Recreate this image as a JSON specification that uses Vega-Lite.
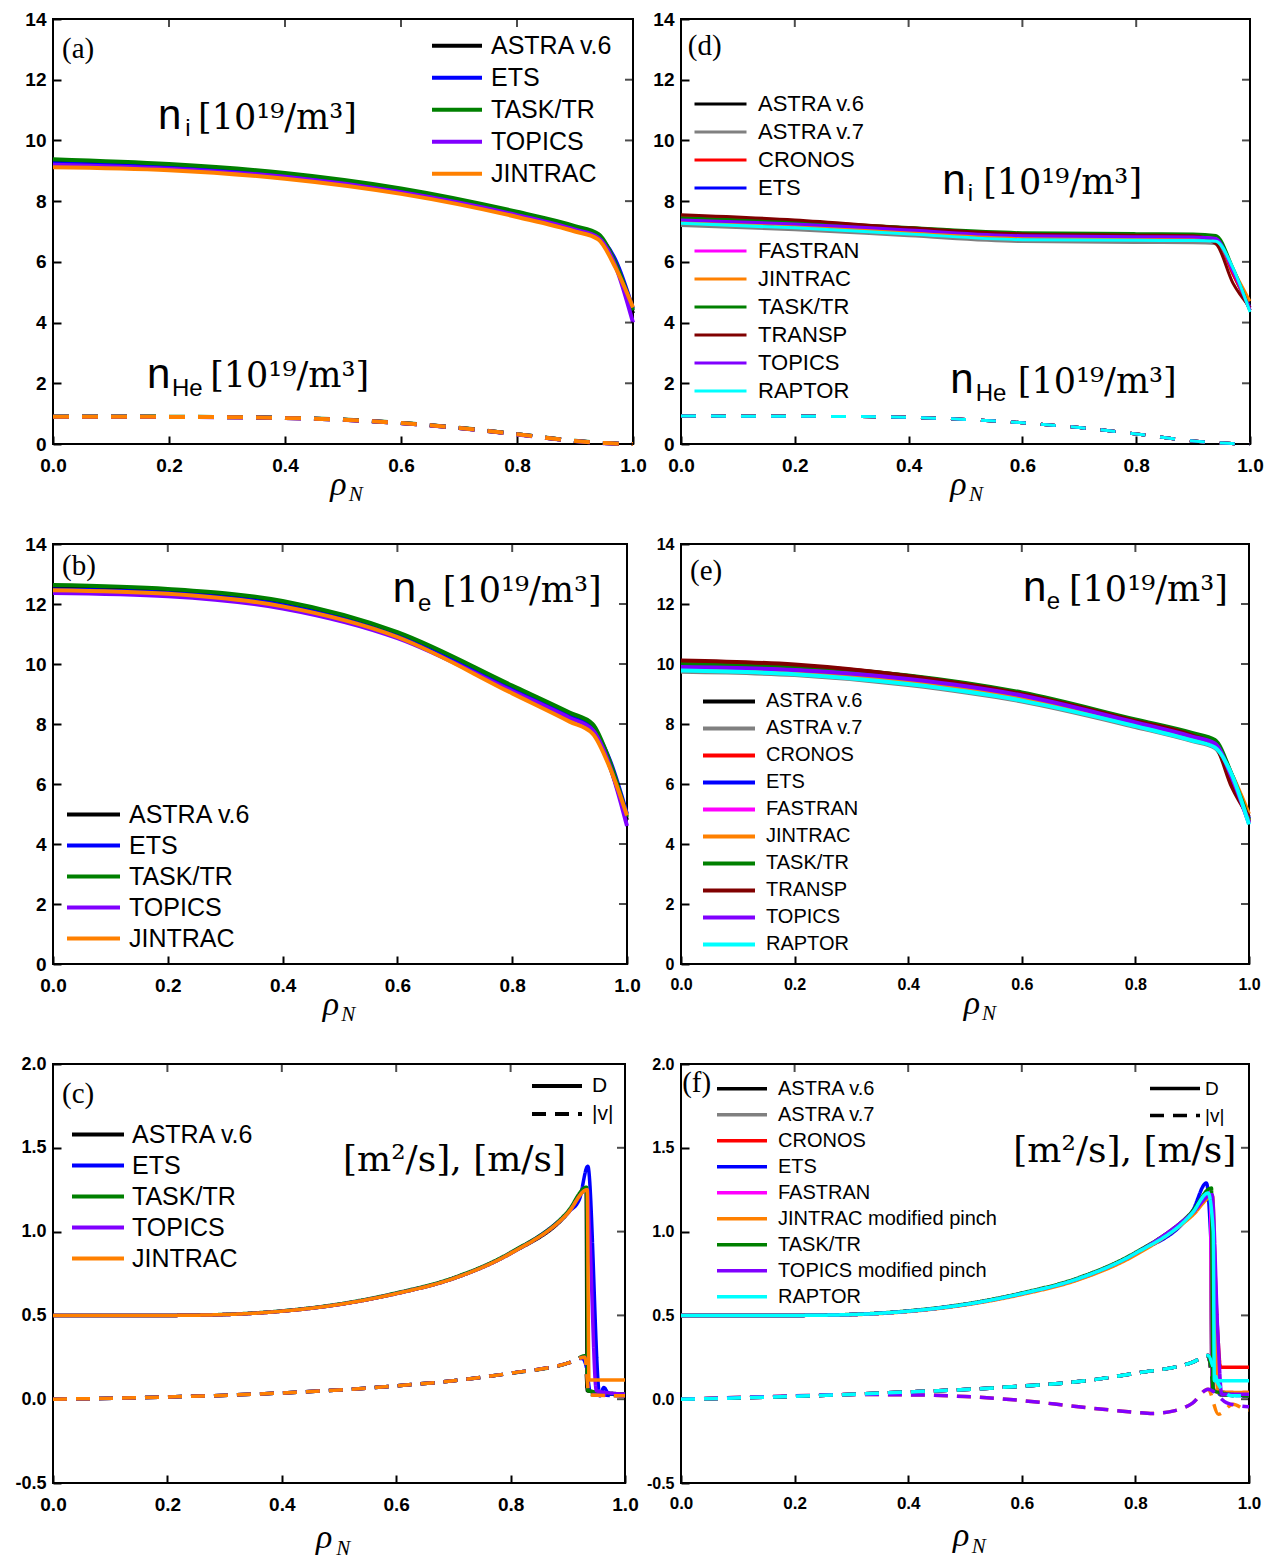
{
  "$schema": "https://vega.github.io/schema/vega-lite/v6.json",
  "background": "white",
  "padding": {"left": 13, "top": 9, "right": 10, "bottom": 10},
  "columns": 2,
  "bounds": "flush",
  "spacing": {"row": 100, "column": 48},
  "resolve": {"scale": {"color": "independent", "strokeDash": "independent"}, "legend": {"color": "independent", "strokeDash": "independent"}},
  "datasets": {
    "xticks": [{"v":0},{"v":0.2},{"v":0.4},{"v":0.6},{"v":0.8},{"v":1}],
    "nticks": [{"v":0},{"v":2},{"v":4},{"v":6},{"v":8},{"v":10},{"v":12},{"v":14}],
    "dticks": [{"v":-0.5},{"v":0},{"v":0.5},{"v":1},{"v":1.5},{"v":2}],
    "a_ni": [
      {"c":"ASTRA v.6","x":0,"y":9.3},{"c":"ASTRA v.6","x":0.2,"y":9.15},{"c":"ASTRA v.6","x":0.4,"y":8.87},{"c":"ASTRA v.6","x":0.6,"y":8.36},{"c":"ASTRA v.6","x":0.8,"y":7.59},{"c":"ASTRA v.6","x":0.9,"y":7.12},{"c":"ASTRA v.6","x":0.94,"y":6.86},{"c":"ASTRA v.6","x":0.97,"y":5.9},{"c":"ASTRA v.6","x":1,"y":4.3},
      {"c":"ETS","x":0,"y":9.25},{"c":"ETS","x":0.2,"y":9.11},{"c":"ETS","x":0.4,"y":8.83},{"c":"ETS","x":0.6,"y":8.32},{"c":"ETS","x":0.8,"y":7.56},{"c":"ETS","x":0.9,"y":7.09},{"c":"ETS","x":0.94,"y":6.83},{"c":"ETS","x":0.97,"y":6.05},{"c":"ETS","x":1,"y":4.45},
      {"c":"TASK/TR","x":0,"y":9.38},{"c":"TASK/TR","x":0.2,"y":9.22},{"c":"TASK/TR","x":0.4,"y":8.93},{"c":"TASK/TR","x":0.6,"y":8.42},{"c":"TASK/TR","x":0.8,"y":7.65},{"c":"TASK/TR","x":0.9,"y":7.18},{"c":"TASK/TR","x":0.94,"y":6.92},{"c":"TASK/TR","x":0.97,"y":5.95},{"c":"TASK/TR","x":1,"y":4.4},
      {"c":"TOPICS","x":0,"y":9.2},{"c":"TOPICS","x":0.2,"y":9.07},{"c":"TOPICS","x":0.4,"y":8.8},{"c":"TOPICS","x":0.6,"y":8.29},{"c":"TOPICS","x":0.8,"y":7.54},{"c":"TOPICS","x":0.9,"y":7.06},{"c":"TOPICS","x":0.94,"y":6.8},{"c":"TOPICS","x":0.97,"y":5.85},{"c":"TOPICS","x":1,"y":4.0},
      {"c":"JINTRAC","x":0,"y":9.12},{"c":"JINTRAC","x":0.2,"y":9.02},{"c":"JINTRAC","x":0.4,"y":8.74},{"c":"JINTRAC","x":0.6,"y":8.24},{"c":"JINTRAC","x":0.8,"y":7.48},{"c":"JINTRAC","x":0.9,"y":7.0},{"c":"JINTRAC","x":0.94,"y":6.74},{"c":"JINTRAC","x":0.97,"y":5.8},{"c":"JINTRAC","x":1,"y":4.5}
    ],
    "a_he": [
      {"c":"ASTRA v.6","x":0,"y":0.9},{"c":"ASTRA v.6","x":0.3,"y":0.885},{"c":"ASTRA v.6","x":0.4,"y":0.86},{"c":"ASTRA v.6","x":0.5,"y":0.8},{"c":"ASTRA v.6","x":0.6,"y":0.69},{"c":"ASTRA v.6","x":0.7,"y":0.53},{"c":"ASTRA v.6","x":0.8,"y":0.32},{"c":"ASTRA v.6","x":0.9,"y":0.1},{"c":"ASTRA v.6","x":0.95,"y":0.03},{"c":"ASTRA v.6","x":1,"y":0},
      {"c":"ETS","x":0,"y":0.9},{"c":"ETS","x":0.3,"y":0.885},{"c":"ETS","x":0.4,"y":0.86},{"c":"ETS","x":0.5,"y":0.8},{"c":"ETS","x":0.6,"y":0.69},{"c":"ETS","x":0.7,"y":0.53},{"c":"ETS","x":0.8,"y":0.32},{"c":"ETS","x":0.9,"y":0.1},{"c":"ETS","x":0.95,"y":0.03},{"c":"ETS","x":1,"y":0},
      {"c":"TASK/TR","x":0,"y":0.91},{"c":"TASK/TR","x":0.3,"y":0.89},{"c":"TASK/TR","x":0.4,"y":0.865},{"c":"TASK/TR","x":0.5,"y":0.805},{"c":"TASK/TR","x":0.6,"y":0.695},{"c":"TASK/TR","x":0.7,"y":0.535},{"c":"TASK/TR","x":0.8,"y":0.325},{"c":"TASK/TR","x":0.9,"y":0.105},{"c":"TASK/TR","x":0.95,"y":0.03},{"c":"TASK/TR","x":1,"y":0},
      {"c":"TOPICS","x":0,"y":0.9},{"c":"TOPICS","x":0.3,"y":0.88},{"c":"TOPICS","x":0.4,"y":0.855},{"c":"TOPICS","x":0.5,"y":0.795},{"c":"TOPICS","x":0.6,"y":0.685},{"c":"TOPICS","x":0.7,"y":0.525},{"c":"TOPICS","x":0.8,"y":0.315},{"c":"TOPICS","x":0.9,"y":0.095},{"c":"TOPICS","x":0.95,"y":0.025},{"c":"TOPICS","x":1,"y":0},
      {"c":"JINTRAC","x":0,"y":0.9},{"c":"JINTRAC","x":0.3,"y":0.885},{"c":"JINTRAC","x":0.4,"y":0.86},{"c":"JINTRAC","x":0.5,"y":0.8},{"c":"JINTRAC","x":0.6,"y":0.69},{"c":"JINTRAC","x":0.7,"y":0.53},{"c":"JINTRAC","x":0.8,"y":0.32},{"c":"JINTRAC","x":0.9,"y":0.1},{"c":"JINTRAC","x":0.95,"y":0.03},{"c":"JINTRAC","x":1,"y":0}
    ],
    "b_ne": [
      {"c":"ASTRA v.6","x":0,"y":12.56},{"c":"ASTRA v.6","x":0.2,"y":12.44},{"c":"ASTRA v.6","x":0.4,"y":12.04},{"c":"ASTRA v.6","x":0.6,"y":11.0},{"c":"ASTRA v.6","x":0.8,"y":9.22},{"c":"ASTRA v.6","x":0.9,"y":8.3},{"c":"ASTRA v.6","x":0.94,"y":7.9},{"c":"ASTRA v.6","x":0.97,"y":6.6},{"c":"ASTRA v.6","x":1,"y":4.8},
      {"c":"ETS","x":0,"y":12.48},{"c":"ETS","x":0.2,"y":12.37},{"c":"ETS","x":0.4,"y":11.97},{"c":"ETS","x":0.6,"y":10.93},{"c":"ETS","x":0.8,"y":9.15},{"c":"ETS","x":0.9,"y":8.25},{"c":"ETS","x":0.94,"y":7.85},{"c":"ETS","x":0.97,"y":6.8},{"c":"ETS","x":1,"y":5.0},
      {"c":"TASK/TR","x":0,"y":12.63},{"c":"TASK/TR","x":0.2,"y":12.5},{"c":"TASK/TR","x":0.4,"y":12.1},{"c":"TASK/TR","x":0.6,"y":11.06},{"c":"TASK/TR","x":0.8,"y":9.28},{"c":"TASK/TR","x":0.9,"y":8.38},{"c":"TASK/TR","x":0.94,"y":8.0},{"c":"TASK/TR","x":0.97,"y":6.75},{"c":"TASK/TR","x":1,"y":4.9},
      {"c":"TOPICS","x":0,"y":12.37},{"c":"TOPICS","x":0.2,"y":12.26},{"c":"TOPICS","x":0.4,"y":11.85},{"c":"TOPICS","x":0.6,"y":10.86},{"c":"TOPICS","x":0.8,"y":9.1},{"c":"TOPICS","x":0.9,"y":8.2},{"c":"TOPICS","x":0.94,"y":7.8},{"c":"TOPICS","x":0.97,"y":6.6},{"c":"TOPICS","x":1,"y":4.6},
      {"c":"JINTRAC","x":0,"y":12.46},{"c":"JINTRAC","x":0.2,"y":12.34},{"c":"JINTRAC","x":0.4,"y":11.92},{"c":"JINTRAC","x":0.6,"y":10.9},{"c":"JINTRAC","x":0.8,"y":9.02},{"c":"JINTRAC","x":0.9,"y":8.08},{"c":"JINTRAC","x":0.94,"y":7.68},{"c":"JINTRAC","x":0.97,"y":6.55},{"c":"JINTRAC","x":1,"y":4.95}
    ],
    "c_dv": [
      {"c":"ASTRA v.6","q":"D","x":0,"y":0.5},{"c":"ASTRA v.6","q":"D","x":0.2,"y":0.5},{"c":"ASTRA v.6","q":"D","x":0.3,"y":0.505},{"c":"ASTRA v.6","q":"D","x":0.4,"y":0.525},{"c":"ASTRA v.6","q":"D","x":0.5,"y":0.565},{"c":"ASTRA v.6","q":"D","x":0.6,"y":0.63},{"c":"ASTRA v.6","q":"D","x":0.7,"y":0.72},{"c":"ASTRA v.6","q":"D","x":0.8,"y":0.87},{"c":"ASTRA v.6","q":"D","x":0.9,"y":1.11},{"c":"ASTRA v.6","q":"D","x":0.932,"y":1.255},{"c":"ASTRA v.6","q":"D","x":0.934,"y":0.05},{"c":"ASTRA v.6","q":"D","x":1,"y":0.03},
      {"c":"ASTRA v.6","q":"|v|","x":0,"y":0},{"c":"ASTRA v.6","q":"|v|","x":0.2,"y":0.013},{"c":"ASTRA v.6","q":"|v|","x":0.4,"y":0.037},{"c":"ASTRA v.6","q":"|v|","x":0.5,"y":0.055},{"c":"ASTRA v.6","q":"|v|","x":0.6,"y":0.08},{"c":"ASTRA v.6","q":"|v|","x":0.7,"y":0.11},{"c":"ASTRA v.6","q":"|v|","x":0.8,"y":0.155},{"c":"ASTRA v.6","q":"|v|","x":0.9,"y":0.215},{"c":"ASTRA v.6","q":"|v|","x":0.93,"y":0.25},{"c":"ASTRA v.6","q":"|v|","x":0.935,"y":0.03},{"c":"ASTRA v.6","q":"|v|","x":1,"y":0.02},
      {"c":"ETS","q":"D","x":0,"y":0.5},{"c":"ETS","q":"D","x":0.2,"y":0.5},{"c":"ETS","q":"D","x":0.3,"y":0.505},{"c":"ETS","q":"D","x":0.4,"y":0.526},{"c":"ETS","q":"D","x":0.5,"y":0.566},{"c":"ETS","q":"D","x":0.6,"y":0.632},{"c":"ETS","q":"D","x":0.7,"y":0.722},{"c":"ETS","q":"D","x":0.8,"y":0.872},{"c":"ETS","q":"D","x":0.9,"y":1.115},{"c":"ETS","q":"D","x":0.92,"y":1.19},{"c":"ETS","q":"D","x":0.935,"y":1.39},{"c":"ETS","q":"D","x":0.956,"y":0.02},{"c":"ETS","q":"D","x":0.963,"y":0.07},{"c":"ETS","q":"D","x":0.972,"y":0.03},{"c":"ETS","q":"D","x":1,"y":0.03},
      {"c":"ETS","q":"|v|","x":0,"y":0},{"c":"ETS","q":"|v|","x":0.2,"y":0.013},{"c":"ETS","q":"|v|","x":0.4,"y":0.037},{"c":"ETS","q":"|v|","x":0.5,"y":0.055},{"c":"ETS","q":"|v|","x":0.6,"y":0.08},{"c":"ETS","q":"|v|","x":0.7,"y":0.11},{"c":"ETS","q":"|v|","x":0.8,"y":0.155},{"c":"ETS","q":"|v|","x":0.9,"y":0.215},{"c":"ETS","q":"|v|","x":0.925,"y":0.245},{"c":"ETS","q":"|v|","x":0.932,"y":0.2},{"c":"ETS","q":"|v|","x":0.94,"y":0.03},{"c":"ETS","q":"|v|","x":1,"y":0.02},
      {"c":"TASK/TR","q":"D","x":0,"y":0.5},{"c":"TASK/TR","q":"D","x":0.2,"y":0.5},{"c":"TASK/TR","q":"D","x":0.3,"y":0.506},{"c":"TASK/TR","q":"D","x":0.4,"y":0.527},{"c":"TASK/TR","q":"D","x":0.5,"y":0.568},{"c":"TASK/TR","q":"D","x":0.6,"y":0.634},{"c":"TASK/TR","q":"D","x":0.7,"y":0.725},{"c":"TASK/TR","q":"D","x":0.8,"y":0.876},{"c":"TASK/TR","q":"D","x":0.9,"y":1.12},{"c":"TASK/TR","q":"D","x":0.933,"y":1.265},{"c":"TASK/TR","q":"D","x":0.935,"y":0.05},{"c":"TASK/TR","q":"D","x":1,"y":0.03},
      {"c":"TASK/TR","q":"|v|","x":0,"y":0},{"c":"TASK/TR","q":"|v|","x":0.2,"y":0.013},{"c":"TASK/TR","q":"|v|","x":0.4,"y":0.037},{"c":"TASK/TR","q":"|v|","x":0.5,"y":0.055},{"c":"TASK/TR","q":"|v|","x":0.6,"y":0.08},{"c":"TASK/TR","q":"|v|","x":0.7,"y":0.11},{"c":"TASK/TR","q":"|v|","x":0.8,"y":0.155},{"c":"TASK/TR","q":"|v|","x":0.9,"y":0.215},{"c":"TASK/TR","q":"|v|","x":0.933,"y":0.26},{"c":"TASK/TR","q":"|v|","x":0.935,"y":0.05},{"c":"TASK/TR","q":"|v|","x":1,"y":0.03},
      {"c":"TOPICS","q":"D","x":0,"y":0.5},{"c":"TOPICS","q":"D","x":0.2,"y":0.5},{"c":"TOPICS","q":"D","x":0.3,"y":0.505},{"c":"TOPICS","q":"D","x":0.4,"y":0.525},{"c":"TOPICS","q":"D","x":0.5,"y":0.565},{"c":"TOPICS","q":"D","x":0.6,"y":0.63},{"c":"TOPICS","q":"D","x":0.7,"y":0.72},{"c":"TOPICS","q":"D","x":0.8,"y":0.87},{"c":"TOPICS","q":"D","x":0.9,"y":1.11},{"c":"TOPICS","q":"D","x":0.934,"y":1.25},{"c":"TOPICS","q":"D","x":0.938,"y":1.0},{"c":"TOPICS","q":"D","x":0.95,"y":0.05},{"c":"TOPICS","q":"D","x":1,"y":0.03},
      {"c":"TOPICS","q":"|v|","x":0,"y":0},{"c":"TOPICS","q":"|v|","x":0.2,"y":0.013},{"c":"TOPICS","q":"|v|","x":0.4,"y":0.037},{"c":"TOPICS","q":"|v|","x":0.5,"y":0.055},{"c":"TOPICS","q":"|v|","x":0.6,"y":0.08},{"c":"TOPICS","q":"|v|","x":0.7,"y":0.11},{"c":"TOPICS","q":"|v|","x":0.8,"y":0.155},{"c":"TOPICS","q":"|v|","x":0.9,"y":0.215},{"c":"TOPICS","q":"|v|","x":0.93,"y":0.25},{"c":"TOPICS","q":"|v|","x":0.938,"y":0.03},{"c":"TOPICS","q":"|v|","x":1,"y":0.02},
      {"c":"JINTRAC","q":"D","x":0,"y":0.5},{"c":"JINTRAC","q":"D","x":0.2,"y":0.5},{"c":"JINTRAC","q":"D","x":0.3,"y":0.505},{"c":"JINTRAC","q":"D","x":0.4,"y":0.525},{"c":"JINTRAC","q":"D","x":0.5,"y":0.565},{"c":"JINTRAC","q":"D","x":0.6,"y":0.63},{"c":"JINTRAC","q":"D","x":0.7,"y":0.72},{"c":"JINTRAC","q":"D","x":0.8,"y":0.87},{"c":"JINTRAC","q":"D","x":0.9,"y":1.11},{"c":"JINTRAC","q":"D","x":0.934,"y":1.25},{"c":"JINTRAC","q":"D","x":0.937,"y":0.115},{"c":"JINTRAC","q":"D","x":1,"y":0.115},
      {"c":"JINTRAC","q":"|v|","x":0,"y":0},{"c":"JINTRAC","q":"|v|","x":0.2,"y":0.013},{"c":"JINTRAC","q":"|v|","x":0.4,"y":0.037},{"c":"JINTRAC","q":"|v|","x":0.5,"y":0.055},{"c":"JINTRAC","q":"|v|","x":0.6,"y":0.08},{"c":"JINTRAC","q":"|v|","x":0.7,"y":0.11},{"c":"JINTRAC","q":"|v|","x":0.8,"y":0.155},{"c":"JINTRAC","q":"|v|","x":0.9,"y":0.215},{"c":"JINTRAC","q":"|v|","x":0.93,"y":0.25},{"c":"JINTRAC","q":"|v|","x":0.937,"y":0.025},{"c":"JINTRAC","q":"|v|","x":1,"y":0.02}
    ],
    "d_ni": [
      {"c":"ASTRA v.6","x":0,"y":7.3},{"c":"ASTRA v.6","x":0.2,"y":7.18},{"c":"ASTRA v.6","x":0.4,"y":6.98},{"c":"ASTRA v.6","x":0.6,"y":6.8},{"c":"ASTRA v.6","x":0.8,"y":6.79},{"c":"ASTRA v.6","x":0.9,"y":6.78},{"c":"ASTRA v.6","x":0.94,"y":6.75},{"c":"ASTRA v.6","x":0.97,"y":5.65},{"c":"ASTRA v.6","x":1,"y":4.4},
      {"c":"ASTRA v.7","x":0,"y":7.2},{"c":"ASTRA v.7","x":0.2,"y":7.06},{"c":"ASTRA v.7","x":0.4,"y":6.86},{"c":"ASTRA v.7","x":0.6,"y":6.67},{"c":"ASTRA v.7","x":0.8,"y":6.64},{"c":"ASTRA v.7","x":0.9,"y":6.63},{"c":"ASTRA v.7","x":0.94,"y":6.6},{"c":"ASTRA v.7","x":0.97,"y":5.6},{"c":"ASTRA v.7","x":1,"y":4.4},
      {"c":"CRONOS","x":0,"y":7.48},{"c":"CRONOS","x":0.2,"y":7.34},{"c":"CRONOS","x":0.4,"y":7.12},{"c":"CRONOS","x":0.6,"y":6.93},{"c":"CRONOS","x":0.8,"y":6.89},{"c":"CRONOS","x":0.9,"y":6.88},{"c":"CRONOS","x":0.94,"y":6.8},{"c":"CRONOS","x":0.97,"y":5.6},{"c":"CRONOS","x":1,"y":4.5},
      {"c":"ETS","x":0,"y":7.35},{"c":"ETS","x":0.2,"y":7.22},{"c":"ETS","x":0.4,"y":7.0},{"c":"ETS","x":0.6,"y":6.8},{"c":"ETS","x":0.8,"y":6.78},{"c":"ETS","x":0.9,"y":6.77},{"c":"ETS","x":0.94,"y":6.72},{"c":"ETS","x":0.97,"y":5.75},{"c":"ETS","x":1,"y":4.5},
      {"c":"FASTRAN","x":0,"y":7.4},{"c":"FASTRAN","x":0.2,"y":7.27},{"c":"FASTRAN","x":0.4,"y":7.06},{"c":"FASTRAN","x":0.6,"y":6.88},{"c":"FASTRAN","x":0.8,"y":6.85},{"c":"FASTRAN","x":0.9,"y":6.84},{"c":"FASTRAN","x":0.94,"y":6.78},{"c":"FASTRAN","x":0.97,"y":5.7},{"c":"FASTRAN","x":1,"y":4.45},
      {"c":"JINTRAC","x":0,"y":7.33},{"c":"JINTRAC","x":0.2,"y":7.2},{"c":"JINTRAC","x":0.4,"y":6.99},{"c":"JINTRAC","x":0.6,"y":6.81},{"c":"JINTRAC","x":0.8,"y":6.8},{"c":"JINTRAC","x":0.9,"y":6.79},{"c":"JINTRAC","x":0.94,"y":6.74},{"c":"JINTRAC","x":0.97,"y":5.75},{"c":"JINTRAC","x":1,"y":4.7},
      {"c":"TASK/TR","x":0,"y":7.45},{"c":"TASK/TR","x":0.2,"y":7.32},{"c":"TASK/TR","x":0.4,"y":7.13},{"c":"TASK/TR","x":0.6,"y":6.96},{"c":"TASK/TR","x":0.8,"y":6.93},{"c":"TASK/TR","x":0.9,"y":6.92},{"c":"TASK/TR","x":0.94,"y":6.87},{"c":"TASK/TR","x":0.97,"y":5.8},{"c":"TASK/TR","x":1,"y":4.4},
      {"c":"TRANSP","x":0,"y":7.55},{"c":"TRANSP","x":0.2,"y":7.38},{"c":"TRANSP","x":0.4,"y":7.12},{"c":"TRANSP","x":0.6,"y":6.92},{"c":"TRANSP","x":0.8,"y":6.88},{"c":"TRANSP","x":0.9,"y":6.86},{"c":"TRANSP","x":0.94,"y":6.6},{"c":"TRANSP","x":0.97,"y":5.3},{"c":"TRANSP","x":1,"y":4.5},
      {"c":"TOPICS","x":0,"y":7.38},{"c":"TOPICS","x":0.2,"y":7.25},{"c":"TOPICS","x":0.4,"y":7.05},{"c":"TOPICS","x":0.6,"y":6.86},{"c":"TOPICS","x":0.8,"y":6.83},{"c":"TOPICS","x":0.9,"y":6.82},{"c":"TOPICS","x":0.94,"y":6.77},{"c":"TOPICS","x":0.97,"y":5.7},{"c":"TOPICS","x":1,"y":4.4},
      {"c":"RAPTOR","x":0,"y":7.27},{"c":"RAPTOR","x":0.2,"y":7.12},{"c":"RAPTOR","x":0.4,"y":6.92},{"c":"RAPTOR","x":0.6,"y":6.73},{"c":"RAPTOR","x":0.8,"y":6.71},{"c":"RAPTOR","x":0.9,"y":6.7},{"c":"RAPTOR","x":0.94,"y":6.68},{"c":"RAPTOR","x":0.97,"y":5.8},{"c":"RAPTOR","x":1,"y":4.35}
    ],
    "d_he": [
      {"c":"ASTRA v.6","x":0,"y":0.92},{"c":"ASTRA v.6","x":0.3,"y":0.905},{"c":"ASTRA v.6","x":0.4,"y":0.875},{"c":"ASTRA v.6","x":0.5,"y":0.81},{"c":"ASTRA v.6","x":0.6,"y":0.7},{"c":"ASTRA v.6","x":0.7,"y":0.54},{"c":"ASTRA v.6","x":0.8,"y":0.33},{"c":"ASTRA v.6","x":0.9,"y":0.1},{"c":"ASTRA v.6","x":0.95,"y":0.03},{"c":"ASTRA v.6","x":1,"y":0},
      {"c":"ASTRA v.7","x":0,"y":0.92},{"c":"ASTRA v.7","x":0.3,"y":0.905},{"c":"ASTRA v.7","x":0.4,"y":0.875},{"c":"ASTRA v.7","x":0.5,"y":0.81},{"c":"ASTRA v.7","x":0.6,"y":0.7},{"c":"ASTRA v.7","x":0.7,"y":0.54},{"c":"ASTRA v.7","x":0.8,"y":0.33},{"c":"ASTRA v.7","x":0.9,"y":0.1},{"c":"ASTRA v.7","x":0.95,"y":0.03},{"c":"ASTRA v.7","x":1,"y":0},
      {"c":"CRONOS","x":0,"y":0.92},{"c":"CRONOS","x":0.3,"y":0.905},{"c":"CRONOS","x":0.4,"y":0.875},{"c":"CRONOS","x":0.5,"y":0.81},{"c":"CRONOS","x":0.6,"y":0.7},{"c":"CRONOS","x":0.7,"y":0.54},{"c":"CRONOS","x":0.8,"y":0.33},{"c":"CRONOS","x":0.9,"y":0.1},{"c":"CRONOS","x":0.95,"y":0.03},{"c":"CRONOS","x":1,"y":0},
      {"c":"ETS","x":0,"y":0.92},{"c":"ETS","x":0.3,"y":0.905},{"c":"ETS","x":0.4,"y":0.875},{"c":"ETS","x":0.5,"y":0.81},{"c":"ETS","x":0.6,"y":0.7},{"c":"ETS","x":0.7,"y":0.54},{"c":"ETS","x":0.8,"y":0.33},{"c":"ETS","x":0.9,"y":0.1},{"c":"ETS","x":0.95,"y":0.03},{"c":"ETS","x":1,"y":0},
      {"c":"FASTRAN","x":0,"y":0.92},{"c":"FASTRAN","x":0.3,"y":0.905},{"c":"FASTRAN","x":0.4,"y":0.875},{"c":"FASTRAN","x":0.5,"y":0.81},{"c":"FASTRAN","x":0.6,"y":0.7},{"c":"FASTRAN","x":0.7,"y":0.54},{"c":"FASTRAN","x":0.8,"y":0.33},{"c":"FASTRAN","x":0.9,"y":0.1},{"c":"FASTRAN","x":0.95,"y":0.03},{"c":"FASTRAN","x":1,"y":0},
      {"c":"JINTRAC","x":0,"y":0.92},{"c":"JINTRAC","x":0.3,"y":0.905},{"c":"JINTRAC","x":0.4,"y":0.875},{"c":"JINTRAC","x":0.5,"y":0.81},{"c":"JINTRAC","x":0.6,"y":0.7},{"c":"JINTRAC","x":0.7,"y":0.54},{"c":"JINTRAC","x":0.8,"y":0.33},{"c":"JINTRAC","x":0.9,"y":0.1},{"c":"JINTRAC","x":0.95,"y":0.03},{"c":"JINTRAC","x":1,"y":0},
      {"c":"TASK/TR","x":0,"y":0.92},{"c":"TASK/TR","x":0.3,"y":0.905},{"c":"TASK/TR","x":0.4,"y":0.875},{"c":"TASK/TR","x":0.5,"y":0.81},{"c":"TASK/TR","x":0.6,"y":0.7},{"c":"TASK/TR","x":0.7,"y":0.54},{"c":"TASK/TR","x":0.8,"y":0.33},{"c":"TASK/TR","x":0.9,"y":0.1},{"c":"TASK/TR","x":0.95,"y":0.03},{"c":"TASK/TR","x":1,"y":0},
      {"c":"TRANSP","x":0,"y":0.92},{"c":"TRANSP","x":0.3,"y":0.905},{"c":"TRANSP","x":0.4,"y":0.875},{"c":"TRANSP","x":0.5,"y":0.81},{"c":"TRANSP","x":0.6,"y":0.7},{"c":"TRANSP","x":0.7,"y":0.54},{"c":"TRANSP","x":0.8,"y":0.33},{"c":"TRANSP","x":0.9,"y":0.1},{"c":"TRANSP","x":0.95,"y":0.03},{"c":"TRANSP","x":1,"y":0},
      {"c":"TOPICS","x":0,"y":0.92},{"c":"TOPICS","x":0.3,"y":0.905},{"c":"TOPICS","x":0.4,"y":0.875},{"c":"TOPICS","x":0.5,"y":0.81},{"c":"TOPICS","x":0.6,"y":0.7},{"c":"TOPICS","x":0.7,"y":0.54},{"c":"TOPICS","x":0.8,"y":0.33},{"c":"TOPICS","x":0.9,"y":0.1},{"c":"TOPICS","x":0.95,"y":0.03},{"c":"TOPICS","x":1,"y":0},
      {"c":"RAPTOR","x":0,"y":0.92},{"c":"RAPTOR","x":0.3,"y":0.905},{"c":"RAPTOR","x":0.4,"y":0.875},{"c":"RAPTOR","x":0.5,"y":0.81},{"c":"RAPTOR","x":0.6,"y":0.7},{"c":"RAPTOR","x":0.7,"y":0.54},{"c":"RAPTOR","x":0.8,"y":0.33},{"c":"RAPTOR","x":0.9,"y":0.1},{"c":"RAPTOR","x":0.95,"y":0.03},{"c":"RAPTOR","x":1,"y":0}
    ],
    "e_ne": [
      {"c":"ASTRA v.6","x":0,"y":9.88},{"c":"ASTRA v.6","x":0.2,"y":9.78},{"c":"ASTRA v.6","x":0.4,"y":9.45},{"c":"ASTRA v.6","x":0.6,"y":8.88},{"c":"ASTRA v.6","x":0.8,"y":8.0},{"c":"ASTRA v.6","x":0.9,"y":7.55},{"c":"ASTRA v.6","x":0.94,"y":7.32},{"c":"ASTRA v.6","x":0.97,"y":6.2},{"c":"ASTRA v.6","x":1,"y":4.75},
      {"c":"ASTRA v.7","x":0,"y":9.74},{"c":"ASTRA v.7","x":0.2,"y":9.63},{"c":"ASTRA v.7","x":0.4,"y":9.3},{"c":"ASTRA v.7","x":0.6,"y":8.75},{"c":"ASTRA v.7","x":0.8,"y":7.9},{"c":"ASTRA v.7","x":0.9,"y":7.43},{"c":"ASTRA v.7","x":0.94,"y":7.2},{"c":"ASTRA v.7","x":0.97,"y":6.15},{"c":"ASTRA v.7","x":1,"y":4.7},
      {"c":"CRONOS","x":0,"y":10.05},{"c":"CRONOS","x":0.2,"y":9.95},{"c":"CRONOS","x":0.4,"y":9.6},{"c":"CRONOS","x":0.6,"y":9.02},{"c":"CRONOS","x":0.8,"y":8.12},{"c":"CRONOS","x":0.9,"y":7.65},{"c":"CRONOS","x":0.94,"y":7.42},{"c":"CRONOS","x":0.97,"y":6.2},{"c":"CRONOS","x":1,"y":4.8},
      {"c":"ETS","x":0,"y":9.92},{"c":"ETS","x":0.2,"y":9.82},{"c":"ETS","x":0.4,"y":9.48},{"c":"ETS","x":0.6,"y":8.9},{"c":"ETS","x":0.8,"y":8.02},{"c":"ETS","x":0.9,"y":7.55},{"c":"ETS","x":0.94,"y":7.33},{"c":"ETS","x":0.97,"y":6.3},{"c":"ETS","x":1,"y":4.85},
      {"c":"FASTRAN","x":0,"y":9.98},{"c":"FASTRAN","x":0.2,"y":9.88},{"c":"FASTRAN","x":0.4,"y":9.55},{"c":"FASTRAN","x":0.6,"y":8.98},{"c":"FASTRAN","x":0.8,"y":8.08},{"c":"FASTRAN","x":0.9,"y":7.62},{"c":"FASTRAN","x":0.94,"y":7.38},{"c":"FASTRAN","x":0.97,"y":6.2},{"c":"FASTRAN","x":1,"y":4.7},
      {"c":"JINTRAC","x":0,"y":9.85},{"c":"JINTRAC","x":0.2,"y":9.75},{"c":"JINTRAC","x":0.4,"y":9.42},{"c":"JINTRAC","x":0.6,"y":8.86},{"c":"JINTRAC","x":0.8,"y":7.98},{"c":"JINTRAC","x":0.9,"y":7.52},{"c":"JINTRAC","x":0.94,"y":7.3},{"c":"JINTRAC","x":0.97,"y":6.3},{"c":"JINTRAC","x":1,"y":5.0},
      {"c":"TASK/TR","x":0,"y":10.0},{"c":"TASK/TR","x":0.2,"y":9.92},{"c":"TASK/TR","x":0.4,"y":9.62},{"c":"TASK/TR","x":0.6,"y":9.05},{"c":"TASK/TR","x":0.8,"y":8.15},{"c":"TASK/TR","x":0.9,"y":7.7},{"c":"TASK/TR","x":0.94,"y":7.47},{"c":"TASK/TR","x":0.97,"y":6.3},{"c":"TASK/TR","x":1,"y":4.8},
      {"c":"TRANSP","x":0,"y":10.12},{"c":"TRANSP","x":0.2,"y":9.98},{"c":"TRANSP","x":0.4,"y":9.6},{"c":"TRANSP","x":0.6,"y":9.0},{"c":"TRANSP","x":0.8,"y":8.1},{"c":"TRANSP","x":0.9,"y":7.62},{"c":"TRANSP","x":0.94,"y":7.3},{"c":"TRANSP","x":0.97,"y":5.9},{"c":"TRANSP","x":1,"y":4.9},
      {"c":"TOPICS","x":0,"y":9.9},{"c":"TOPICS","x":0.2,"y":9.8},{"c":"TOPICS","x":0.4,"y":9.5},{"c":"TOPICS","x":0.6,"y":8.95},{"c":"TOPICS","x":0.8,"y":8.05},{"c":"TOPICS","x":0.9,"y":7.58},{"c":"TOPICS","x":0.94,"y":7.35},{"c":"TOPICS","x":0.97,"y":6.2},{"c":"TOPICS","x":1,"y":4.7},
      {"c":"RAPTOR","x":0,"y":9.78},{"c":"RAPTOR","x":0.2,"y":9.66},{"c":"RAPTOR","x":0.4,"y":9.33},{"c":"RAPTOR","x":0.6,"y":8.78},{"c":"RAPTOR","x":0.8,"y":7.93},{"c":"RAPTOR","x":0.9,"y":7.45},{"c":"RAPTOR","x":0.94,"y":7.22},{"c":"RAPTOR","x":0.97,"y":6.3},{"c":"RAPTOR","x":1,"y":4.65}
    ],
    "f_dv": [
      {"c":"ASTRA v.6","q":"D","x":0,"y":0.5},{"c":"ASTRA v.6","q":"D","x":0.2,"y":0.5},{"c":"ASTRA v.6","q":"D","x":0.3,"y":0.505},{"c":"ASTRA v.6","q":"D","x":0.4,"y":0.525},{"c":"ASTRA v.6","q":"D","x":0.5,"y":0.565},{"c":"ASTRA v.6","q":"D","x":0.6,"y":0.63},{"c":"ASTRA v.6","q":"D","x":0.7,"y":0.72},{"c":"ASTRA v.6","q":"D","x":0.8,"y":0.87},{"c":"ASTRA v.6","q":"D","x":0.9,"y":1.11},{"c":"ASTRA v.6","q":"D","x":0.932,"y":1.24},{"c":"ASTRA v.6","q":"D","x":0.935,"y":0.05},{"c":"ASTRA v.6","q":"D","x":1,"y":0.03},
      {"c":"ASTRA v.6","q":"|v|","x":0,"y":0},{"c":"ASTRA v.6","q":"|v|","x":0.2,"y":0.017},{"c":"ASTRA v.6","q":"|v|","x":0.4,"y":0.043},{"c":"ASTRA v.6","q":"|v|","x":0.5,"y":0.058},{"c":"ASTRA v.6","q":"|v|","x":0.6,"y":0.078},{"c":"ASTRA v.6","q":"|v|","x":0.7,"y":0.105},{"c":"ASTRA v.6","q":"|v|","x":0.8,"y":0.155},{"c":"ASTRA v.6","q":"|v|","x":0.9,"y":0.22},{"c":"ASTRA v.6","q":"|v|","x":0.928,"y":0.26},{"c":"ASTRA v.6","q":"|v|","x":0.94,"y":0.03},{"c":"ASTRA v.6","q":"|v|","x":1,"y":0.02},
      {"c":"ASTRA v.7","q":"D","x":0,"y":0.5},{"c":"ASTRA v.7","q":"D","x":0.2,"y":0.5},{"c":"ASTRA v.7","q":"D","x":0.3,"y":0.505},{"c":"ASTRA v.7","q":"D","x":0.4,"y":0.525},{"c":"ASTRA v.7","q":"D","x":0.5,"y":0.565},{"c":"ASTRA v.7","q":"D","x":0.6,"y":0.63},{"c":"ASTRA v.7","q":"D","x":0.7,"y":0.72},{"c":"ASTRA v.7","q":"D","x":0.8,"y":0.87},{"c":"ASTRA v.7","q":"D","x":0.9,"y":1.11},{"c":"ASTRA v.7","q":"D","x":0.932,"y":1.24},{"c":"ASTRA v.7","q":"D","x":0.935,"y":0.05},{"c":"ASTRA v.7","q":"D","x":1,"y":0.03},
      {"c":"ASTRA v.7","q":"|v|","x":0,"y":0},{"c":"ASTRA v.7","q":"|v|","x":0.2,"y":0.017},{"c":"ASTRA v.7","q":"|v|","x":0.4,"y":0.043},{"c":"ASTRA v.7","q":"|v|","x":0.5,"y":0.058},{"c":"ASTRA v.7","q":"|v|","x":0.6,"y":0.078},{"c":"ASTRA v.7","q":"|v|","x":0.7,"y":0.105},{"c":"ASTRA v.7","q":"|v|","x":0.8,"y":0.155},{"c":"ASTRA v.7","q":"|v|","x":0.9,"y":0.22},{"c":"ASTRA v.7","q":"|v|","x":0.928,"y":0.26},{"c":"ASTRA v.7","q":"|v|","x":0.94,"y":0.03},{"c":"ASTRA v.7","q":"|v|","x":1,"y":0.02},
      {"c":"CRONOS","q":"D","x":0,"y":0.5},{"c":"CRONOS","q":"D","x":0.2,"y":0.5},{"c":"CRONOS","q":"D","x":0.3,"y":0.505},{"c":"CRONOS","q":"D","x":0.4,"y":0.525},{"c":"CRONOS","q":"D","x":0.5,"y":0.565},{"c":"CRONOS","q":"D","x":0.6,"y":0.63},{"c":"CRONOS","q":"D","x":0.7,"y":0.72},{"c":"CRONOS","q":"D","x":0.8,"y":0.87},{"c":"CRONOS","q":"D","x":0.9,"y":1.11},{"c":"CRONOS","q":"D","x":0.934,"y":1.22},{"c":"CRONOS","q":"D","x":0.944,"y":0.45},{"c":"CRONOS","q":"D","x":0.95,"y":0.19},{"c":"CRONOS","q":"D","x":1,"y":0.19},
      {"c":"CRONOS","q":"|v|","x":0,"y":0},{"c":"CRONOS","q":"|v|","x":0.2,"y":0.017},{"c":"CRONOS","q":"|v|","x":0.4,"y":0.043},{"c":"CRONOS","q":"|v|","x":0.5,"y":0.058},{"c":"CRONOS","q":"|v|","x":0.6,"y":0.078},{"c":"CRONOS","q":"|v|","x":0.7,"y":0.105},{"c":"CRONOS","q":"|v|","x":0.8,"y":0.155},{"c":"CRONOS","q":"|v|","x":0.9,"y":0.22},{"c":"CRONOS","q":"|v|","x":0.928,"y":0.26},{"c":"CRONOS","q":"|v|","x":0.94,"y":0.03},{"c":"CRONOS","q":"|v|","x":0.95,"y":0.04},{"c":"CRONOS","q":"|v|","x":1,"y":0.04},
      {"c":"ETS","q":"D","x":0,"y":0.5},{"c":"ETS","q":"D","x":0.2,"y":0.5},{"c":"ETS","q":"D","x":0.3,"y":0.505},{"c":"ETS","q":"D","x":0.4,"y":0.525},{"c":"ETS","q":"D","x":0.5,"y":0.565},{"c":"ETS","q":"D","x":0.6,"y":0.63},{"c":"ETS","q":"D","x":0.7,"y":0.72},{"c":"ETS","q":"D","x":0.8,"y":0.87},{"c":"ETS","q":"D","x":0.9,"y":1.12},{"c":"ETS","q":"D","x":0.925,"y":1.29},{"c":"ETS","q":"D","x":0.948,"y":0.03},{"c":"ETS","q":"D","x":1,"y":0.02},
      {"c":"ETS","q":"|v|","x":0,"y":0},{"c":"ETS","q":"|v|","x":0.2,"y":0.017},{"c":"ETS","q":"|v|","x":0.4,"y":0.043},{"c":"ETS","q":"|v|","x":0.5,"y":0.058},{"c":"ETS","q":"|v|","x":0.6,"y":0.078},{"c":"ETS","q":"|v|","x":0.7,"y":0.105},{"c":"ETS","q":"|v|","x":0.8,"y":0.155},{"c":"ETS","q":"|v|","x":0.9,"y":0.22},{"c":"ETS","q":"|v|","x":0.928,"y":0.26},{"c":"ETS","q":"|v|","x":0.94,"y":0.03},{"c":"ETS","q":"|v|","x":1,"y":0.02},
      {"c":"FASTRAN","q":"D","x":0,"y":0.5},{"c":"FASTRAN","q":"D","x":0.2,"y":0.5},{"c":"FASTRAN","q":"D","x":0.3,"y":0.505},{"c":"FASTRAN","q":"D","x":0.4,"y":0.525},{"c":"FASTRAN","q":"D","x":0.5,"y":0.565},{"c":"FASTRAN","q":"D","x":0.6,"y":0.63},{"c":"FASTRAN","q":"D","x":0.7,"y":0.72},{"c":"FASTRAN","q":"D","x":0.8,"y":0.87},{"c":"FASTRAN","q":"D","x":0.9,"y":1.11},{"c":"FASTRAN","q":"D","x":0.932,"y":1.24},{"c":"FASTRAN","q":"D","x":0.935,"y":0.05},{"c":"FASTRAN","q":"D","x":1,"y":0.03},
      {"c":"FASTRAN","q":"|v|","x":0,"y":0},{"c":"FASTRAN","q":"|v|","x":0.2,"y":0.017},{"c":"FASTRAN","q":"|v|","x":0.4,"y":0.043},{"c":"FASTRAN","q":"|v|","x":0.5,"y":0.058},{"c":"FASTRAN","q":"|v|","x":0.6,"y":0.078},{"c":"FASTRAN","q":"|v|","x":0.7,"y":0.105},{"c":"FASTRAN","q":"|v|","x":0.8,"y":0.155},{"c":"FASTRAN","q":"|v|","x":0.9,"y":0.22},{"c":"FASTRAN","q":"|v|","x":0.928,"y":0.26},{"c":"FASTRAN","q":"|v|","x":0.94,"y":0.03},{"c":"FASTRAN","q":"|v|","x":1,"y":0.02},
      {"c":"JINTRAC modified pinch","q":"D","x":0,"y":0.5},{"c":"JINTRAC modified pinch","q":"D","x":0.2,"y":0.5},{"c":"JINTRAC modified pinch","q":"D","x":0.3,"y":0.504},{"c":"JINTRAC modified pinch","q":"D","x":0.4,"y":0.523},{"c":"JINTRAC modified pinch","q":"D","x":0.5,"y":0.562},{"c":"JINTRAC modified pinch","q":"D","x":0.6,"y":0.625},{"c":"JINTRAC modified pinch","q":"D","x":0.7,"y":0.713},{"c":"JINTRAC modified pinch","q":"D","x":0.8,"y":0.86},{"c":"JINTRAC modified pinch","q":"D","x":0.9,"y":1.095},{"c":"JINTRAC modified pinch","q":"D","x":0.936,"y":1.21},{"c":"JINTRAC modified pinch","q":"D","x":0.945,"y":0.04},{"c":"JINTRAC modified pinch","q":"D","x":1,"y":0.04},
      {"c":"JINTRAC modified pinch","q":"|v|","x":0,"y":0},{"c":"JINTRAC modified pinch","q":"|v|","x":0.2,"y":0.02},{"c":"JINTRAC modified pinch","q":"|v|","x":0.3,"y":0.028},{"c":"JINTRAC modified pinch","q":"|v|","x":0.4,"y":0.026},{"c":"JINTRAC modified pinch","q":"|v|","x":0.5,"y":0.016},{"c":"JINTRAC modified pinch","q":"|v|","x":0.6,"y":-0.008},{"c":"JINTRAC modified pinch","q":"|v|","x":0.7,"y":-0.045},{"c":"JINTRAC modified pinch","q":"|v|","x":0.8,"y":-0.078},{"c":"JINTRAC modified pinch","q":"|v|","x":0.83,"y":-0.085},{"c":"JINTRAC modified pinch","q":"|v|","x":0.87,"y":-0.068},{"c":"JINTRAC modified pinch","q":"|v|","x":0.9,"y":-0.025},{"c":"JINTRAC modified pinch","q":"|v|","x":0.928,"y":0.06},{"c":"JINTRAC modified pinch","q":"|v|","x":0.946,"y":-0.09},{"c":"JINTRAC modified pinch","q":"|v|","x":0.972,"y":-0.03},{"c":"JINTRAC modified pinch","q":"|v|","x":0.992,"y":-0.06},{"c":"JINTRAC modified pinch","q":"|v|","x":1,"y":-0.065},
      {"c":"TASK/TR","q":"D","x":0,"y":0.5},{"c":"TASK/TR","q":"D","x":0.2,"y":0.5},{"c":"TASK/TR","q":"D","x":0.3,"y":0.506},{"c":"TASK/TR","q":"D","x":0.4,"y":0.527},{"c":"TASK/TR","q":"D","x":0.5,"y":0.568},{"c":"TASK/TR","q":"D","x":0.6,"y":0.634},{"c":"TASK/TR","q":"D","x":0.7,"y":0.725},{"c":"TASK/TR","q":"D","x":0.8,"y":0.876},{"c":"TASK/TR","q":"D","x":0.9,"y":1.12},{"c":"TASK/TR","q":"D","x":0.934,"y":1.26},{"c":"TASK/TR","q":"D","x":0.936,"y":0.05},{"c":"TASK/TR","q":"D","x":1,"y":0.02},
      {"c":"TASK/TR","q":"|v|","x":0,"y":0},{"c":"TASK/TR","q":"|v|","x":0.2,"y":0.017},{"c":"TASK/TR","q":"|v|","x":0.4,"y":0.043},{"c":"TASK/TR","q":"|v|","x":0.5,"y":0.058},{"c":"TASK/TR","q":"|v|","x":0.6,"y":0.078},{"c":"TASK/TR","q":"|v|","x":0.7,"y":0.105},{"c":"TASK/TR","q":"|v|","x":0.8,"y":0.155},{"c":"TASK/TR","q":"|v|","x":0.9,"y":0.22},{"c":"TASK/TR","q":"|v|","x":0.928,"y":0.26},{"c":"TASK/TR","q":"|v|","x":0.94,"y":0.03},{"c":"TASK/TR","q":"|v|","x":1,"y":0.02},
      {"c":"TOPICS modified pinch","q":"D","x":0,"y":0.5},{"c":"TOPICS modified pinch","q":"D","x":0.2,"y":0.5},{"c":"TOPICS modified pinch","q":"D","x":0.3,"y":0.505},{"c":"TOPICS modified pinch","q":"D","x":0.4,"y":0.525},{"c":"TOPICS modified pinch","q":"D","x":0.5,"y":0.565},{"c":"TOPICS modified pinch","q":"D","x":0.6,"y":0.63},{"c":"TOPICS modified pinch","q":"D","x":0.7,"y":0.72},{"c":"TOPICS modified pinch","q":"D","x":0.8,"y":0.87},{"c":"TOPICS modified pinch","q":"D","x":0.9,"y":1.11},{"c":"TOPICS modified pinch","q":"D","x":0.935,"y":1.22},{"c":"TOPICS modified pinch","q":"D","x":0.945,"y":0.4},{"c":"TOPICS modified pinch","q":"D","x":0.952,"y":0.03},{"c":"TOPICS modified pinch","q":"D","x":1,"y":0.03},
      {"c":"TOPICS modified pinch","q":"|v|","x":0,"y":0},{"c":"TOPICS modified pinch","q":"|v|","x":0.2,"y":0.02},{"c":"TOPICS modified pinch","q":"|v|","x":0.3,"y":0.028},{"c":"TOPICS modified pinch","q":"|v|","x":0.4,"y":0.026},{"c":"TOPICS modified pinch","q":"|v|","x":0.5,"y":0.016},{"c":"TOPICS modified pinch","q":"|v|","x":0.6,"y":-0.008},{"c":"TOPICS modified pinch","q":"|v|","x":0.7,"y":-0.045},{"c":"TOPICS modified pinch","q":"|v|","x":0.8,"y":-0.078},{"c":"TOPICS modified pinch","q":"|v|","x":0.83,"y":-0.085},{"c":"TOPICS modified pinch","q":"|v|","x":0.87,"y":-0.068},{"c":"TOPICS modified pinch","q":"|v|","x":0.9,"y":-0.025},{"c":"TOPICS modified pinch","q":"|v|","x":0.928,"y":0.06},{"c":"TOPICS modified pinch","q":"|v|","x":0.96,"y":-0.02},{"c":"TOPICS modified pinch","q":"|v|","x":0.985,"y":-0.04},{"c":"TOPICS modified pinch","q":"|v|","x":1,"y":-0.045},
      {"c":"RAPTOR","q":"D","x":0,"y":0.5},{"c":"RAPTOR","q":"D","x":0.2,"y":0.5},{"c":"RAPTOR","q":"D","x":0.3,"y":0.505},{"c":"RAPTOR","q":"D","x":0.4,"y":0.525},{"c":"RAPTOR","q":"D","x":0.5,"y":0.565},{"c":"RAPTOR","q":"D","x":0.6,"y":0.63},{"c":"RAPTOR","q":"D","x":0.7,"y":0.72},{"c":"RAPTOR","q":"D","x":0.8,"y":0.87},{"c":"RAPTOR","q":"D","x":0.9,"y":1.11},{"c":"RAPTOR","q":"D","x":0.928,"y":1.23},{"c":"RAPTOR","q":"D","x":0.937,"y":1.0},{"c":"RAPTOR","q":"D","x":0.939,"y":0.11},{"c":"RAPTOR","q":"D","x":1,"y":0.11},
      {"c":"RAPTOR","q":"|v|","x":0,"y":0},{"c":"RAPTOR","q":"|v|","x":0.2,"y":0.017},{"c":"RAPTOR","q":"|v|","x":0.4,"y":0.043},{"c":"RAPTOR","q":"|v|","x":0.5,"y":0.058},{"c":"RAPTOR","q":"|v|","x":0.6,"y":0.078},{"c":"RAPTOR","q":"|v|","x":0.7,"y":0.105},{"c":"RAPTOR","q":"|v|","x":0.8,"y":0.155},{"c":"RAPTOR","q":"|v|","x":0.9,"y":0.22},{"c":"RAPTOR","q":"|v|","x":0.928,"y":0.26},{"c":"RAPTOR","q":"|v|","x":0.937,"y":0.19},{"c":"RAPTOR","q":"|v|","x":0.946,"y":0.09},{"c":"RAPTOR","q":"|v|","x":0.97,"y":0.02},{"c":"RAPTOR","q":"|v|","x":1,"y":0.02}
    ]
  },
  "concat": [
    {
      "width": 580, "height": 425,
      "layer": [
        {
          "data": {"name": "a_ni"},
          "mark": {"type": "line", "strokeWidth": 4, "interpolate": "monotone"},
          "encoding": {
            "x": {"field": "x", "type": "quantitative", "scale": {"domain": [0, 1], "nice": false, "zero": false}, "axis": {"title": null, "values": [0, 0.2, 0.4, 0.6, 0.8, 1], "format": ".1f", "labelFontSize": 19}},
            "y": {"field": "y", "type": "quantitative", "scale": {"domain": [0, 14], "nice": false, "zero": false}, "axis": {"title": null, "values": [0, 2, 4, 6, 8, 10, 12, 14], "format": "d", "labelFontSize": 19}},
            "color": {"field": "c", "type": "nominal",
              "scale": {"domain": ["ASTRA v.6", "ETS", "TASK/TR", "TOPICS", "JINTRAC"], "range": ["#000000", "#0000ff", "#008000", "#8000ff", "#ff8000"]},
              "legend": {"title": null, "orient": "none", "legendX": 377, "legendY": 12, "labelFontSize": 25, "labelOffset": 7, "symbolType": "stroke", "symbolSize": 2500, "symbolStrokeWidth": 4, "clipHeight": 29.5, "rowPadding": 2}}
          }
        },
        {
          "data": {"name": "a_he"},
          "mark": {"type": "line", "strokeWidth": 4, "strokeDash": [16, 13], "interpolate": "monotone"},
          "encoding": {
            "x": {"field": "x", "type": "quantitative"},
            "y": {"field": "y", "type": "quantitative"},
            "color": {"field": "c", "type": "nominal", "legend": null}
          }
        },
        {"data": {"name": "xticks"}, "mark": {"type": "tick", "orient": "vertical", "size": 8, "thickness": 2, "color": "black", "yOffset": 4}, "encoding": {"x": {"field": "v", "type": "quantitative"}, "y": {"datum": 14, "type": "quantitative"}}},
        {"data": {"name": "nticks"}, "mark": {"type": "tick", "orient": "horizontal", "size": 8, "thickness": 2, "color": "black", "xOffset": -4}, "encoding": {"y": {"field": "v", "type": "quantitative"}, "x": {"datum": 1, "type": "quantitative"}}},
        {
          "data": {"values": [{}]},
          "layer": [
            {"mark": {"type": "text", "style": "tag", "text": "(a)"}, "encoding": {"x": {"datum": 0.0155, "type": "quantitative"}, "y": {"datum": 13.0, "type": "quantitative"}}},
            {"mark": {"type": "text", "style": "sym", "text": "n"}, "encoding": {"x": {"datum": 0.181, "type": "quantitative"}, "y": {"datum": 10.38, "type": "quantitative"}}},
            {"mark": {"type": "text", "style": "sub", "text": "i"}, "encoding": {"x": {"datum": 0.228, "type": "quantitative"}, "y": {"datum": 10.15, "type": "quantitative"}}},
            {"mark": {"type": "text", "style": "unit", "text": "[10¹⁹/m³]"}, "encoding": {"x": {"datum": 0.25, "type": "quantitative"}, "y": {"datum": 10.38, "type": "quantitative"}}},
            {"mark": {"type": "text", "style": "sym", "text": "n"}, "encoding": {"x": {"datum": 0.162, "type": "quantitative"}, "y": {"datum": 1.86, "type": "quantitative"}}},
            {"mark": {"type": "text", "style": "sub", "text": "He"}, "encoding": {"x": {"datum": 0.205, "type": "quantitative"}, "y": {"datum": 1.58, "type": "quantitative"}}},
            {"mark": {"type": "text", "style": "unit", "text": "[10¹⁹/m³]"}, "encoding": {"x": {"datum": 0.271, "type": "quantitative"}, "y": {"datum": 1.88, "type": "quantitative"}}},
            {"mark": {"type": "text", "style": "rho", "text": "ρ"}, "encoding": {"x": {"datum": 0.478, "type": "quantitative"}, "y": {"datum": -1.68, "type": "quantitative"}}},
            {"mark": {"type": "text", "style": "rhosub", "text": "N"}, "encoding": {"x": {"datum": 0.51, "type": "quantitative"}, "y": {"datum": -1.88, "type": "quantitative"}}}
          ]
        }
      ]
    },
    {
      "width": 569, "height": 425,
      "resolve": {"scale": {"color": "independent"}},
      "layer": [
        {
          "data": {"name": "d_ni"},
          "transform": [{"filter": {"field": "c", "oneOf": ["ASTRA v.6", "ASTRA v.7", "CRONOS", "ETS"]}}],
          "mark": {"type": "line", "strokeWidth": 3, "interpolate": "monotone"},
          "encoding": {
            "x": {"field": "x", "type": "quantitative", "scale": {"domain": [0, 1], "nice": false, "zero": false}, "axis": {"title": null, "values": [0, 0.2, 0.4, 0.6, 0.8, 1], "format": ".1f", "labelFontSize": 19}},
            "y": {"field": "y", "type": "quantitative", "scale": {"domain": [0, 14], "nice": false, "zero": false}, "axis": {"title": null, "values": [0, 2, 4, 6, 8, 10, 12, 14], "format": "d", "labelFontSize": 19}},
            "color": {"field": "c", "type": "nominal",
              "scale": {"domain": ["ASTRA v.6", "ASTRA v.7", "CRONOS", "ETS"], "range": ["#000000", "#808080", "#ff0000", "#0000ff"]},
              "legend": {"title": null, "orient": "none", "legendX": 12, "legendY": 72, "labelFontSize": 22, "labelOffset": 10, "symbolType": "stroke", "symbolSize": 2704, "symbolStrokeWidth": 3, "clipHeight": 26, "rowPadding": 2}}
          }
        },
        {
          "data": {"name": "d_ni"},
          "transform": [{"filter": {"field": "c", "oneOf": ["FASTRAN", "JINTRAC", "TASK/TR", "TRANSP", "TOPICS", "RAPTOR"]}}],
          "mark": {"type": "line", "strokeWidth": 3, "interpolate": "monotone"},
          "encoding": {
            "x": {"field": "x", "type": "quantitative"},
            "y": {"field": "y", "type": "quantitative"},
            "color": {"field": "c", "type": "nominal",
              "scale": {"domain": ["FASTRAN", "JINTRAC", "TASK/TR", "TRANSP", "TOPICS", "RAPTOR"], "range": ["#ff00ff", "#ff8000", "#008000", "#800000", "#8000ff", "#00ffff"]},
              "legend": {"title": null, "orient": "none", "legendX": 12, "legendY": 219, "labelFontSize": 22, "labelOffset": 10, "symbolType": "stroke", "symbolSize": 2704, "symbolStrokeWidth": 3, "clipHeight": 26, "rowPadding": 2}}
          }
        },
        {
          "data": {"name": "d_he"},
          "mark": {"type": "line", "strokeWidth": 3, "strokeDash": [15, 15], "interpolate": "monotone"},
          "encoding": {
            "x": {"field": "x", "type": "quantitative"},
            "y": {"field": "y", "type": "quantitative"},
            "color": {"field": "c", "type": "nominal", "legend": null,
              "scale": {"domain": ["ASTRA v.6", "ASTRA v.7", "CRONOS", "ETS", "FASTRAN", "JINTRAC", "TASK/TR", "TRANSP", "TOPICS", "RAPTOR"], "range": ["#000000", "#808080", "#ff0000", "#0000ff", "#ff00ff", "#ff8000", "#008000", "#800000", "#8000ff", "#00ffff"]}}
          }
        },
        {"data": {"name": "xticks"}, "mark": {"type": "tick", "orient": "vertical", "size": 8, "thickness": 2, "color": "black", "yOffset": 4}, "encoding": {"x": {"field": "v", "type": "quantitative"}, "y": {"datum": 14, "type": "quantitative"}}},
        {"data": {"name": "nticks"}, "mark": {"type": "tick", "orient": "horizontal", "size": 8, "thickness": 2, "color": "black", "xOffset": -4}, "encoding": {"y": {"field": "v", "type": "quantitative"}, "x": {"datum": 1, "type": "quantitative"}}},
        {
          "data": {"values": [{}]},
          "layer": [
            {"mark": {"type": "text", "style": "tag", "text": "(d)"}, "encoding": {"x": {"datum": 0.012, "type": "quantitative"}, "y": {"datum": 13.11, "type": "quantitative"}}},
            {"mark": {"type": "text", "style": "sym", "text": "n"}, "encoding": {"x": {"datum": 0.459, "type": "quantitative"}, "y": {"datum": 8.24, "type": "quantitative"}}},
            {"mark": {"type": "text", "style": "sub", "text": "i"}, "encoding": {"x": {"datum": 0.504, "type": "quantitative"}, "y": {"datum": 8.0, "type": "quantitative"}}},
            {"mark": {"type": "text", "style": "unit", "text": "[10¹⁹/m³]"}, "encoding": {"x": {"datum": 0.531, "type": "quantitative"}, "y": {"datum": 8.24, "type": "quantitative"}}},
            {"mark": {"type": "text", "style": "sym", "text": "n"}, "encoding": {"x": {"datum": 0.473, "type": "quantitative"}, "y": {"datum": 1.69, "type": "quantitative"}}},
            {"mark": {"type": "text", "style": "sub", "text": "He"}, "encoding": {"x": {"datum": 0.518, "type": "quantitative"}, "y": {"datum": 1.42, "type": "quantitative"}}},
            {"mark": {"type": "text", "style": "unit", "text": "[10¹⁹/m³]"}, "encoding": {"x": {"datum": 0.592, "type": "quantitative"}, "y": {"datum": 1.68, "type": "quantitative"}}},
            {"mark": {"type": "text", "style": "rho", "text": "ρ"}, "encoding": {"x": {"datum": 0.473, "type": "quantitative"}, "y": {"datum": -1.68, "type": "quantitative"}}},
            {"mark": {"type": "text", "style": "rhosub", "text": "N"}, "encoding": {"x": {"datum": 0.506, "type": "quantitative"}, "y": {"datum": -1.88, "type": "quantitative"}}}
          ]
        }
      ]
    },
    {
      "width": 574, "height": 420,
      "layer": [
        {
          "data": {"name": "b_ne"},
          "mark": {"type": "line", "strokeWidth": 4, "interpolate": "monotone"},
          "encoding": {
            "x": {"field": "x", "type": "quantitative", "scale": {"domain": [0, 1], "nice": false, "zero": false}, "axis": {"title": null, "values": [0, 0.2, 0.4, 0.6, 0.8, 1], "format": ".1f", "labelFontSize": 19}},
            "y": {"field": "y", "type": "quantitative", "scale": {"domain": [0, 14], "nice": false, "zero": false}, "axis": {"title": null, "values": [0, 2, 4, 6, 8, 10, 12, 14], "format": "d", "labelFontSize": 19}},
            "color": {"field": "c", "type": "nominal",
              "scale": {"domain": ["ASTRA v.6", "ETS", "TASK/TR", "TOPICS", "JINTRAC"], "range": ["#000000", "#0000ff", "#008000", "#8000ff", "#ff8000"]},
              "legend": {"title": null, "orient": "none", "legendX": 12, "legendY": 256, "labelFontSize": 25, "labelOffset": 7, "symbolType": "stroke", "symbolSize": 2809, "symbolStrokeWidth": 4, "clipHeight": 29, "rowPadding": 2}}
          }
        },
        {"data": {"name": "xticks"}, "mark": {"type": "tick", "orient": "vertical", "size": 8, "thickness": 2, "color": "black", "yOffset": 4}, "encoding": {"x": {"field": "v", "type": "quantitative"}, "y": {"datum": 14, "type": "quantitative"}}},
        {"data": {"name": "nticks"}, "mark": {"type": "tick", "orient": "horizontal", "size": 8, "thickness": 2, "color": "black", "xOffset": -4}, "encoding": {"y": {"field": "v", "type": "quantitative"}, "x": {"datum": 1, "type": "quantitative"}}},
        {
          "data": {"values": [{}]},
          "layer": [
            {"mark": {"type": "text", "style": "tag", "text": "(b)"}, "encoding": {"x": {"datum": 0.0157, "type": "quantitative"}, "y": {"datum": 13.27, "type": "quantitative"}}},
            {"mark": {"type": "text", "style": "sym", "text": "n"}, "encoding": {"x": {"datum": 0.592, "type": "quantitative"}, "y": {"datum": 12.07, "type": "quantitative"}}},
            {"mark": {"type": "text", "style": "sub", "text": "e"}, "encoding": {"x": {"datum": 0.636, "type": "quantitative"}, "y": {"datum": 11.78, "type": "quantitative"}}},
            {"mark": {"type": "text", "style": "unit", "text": "[10¹⁹/m³]"}, "encoding": {"x": {"datum": 0.679, "type": "quantitative"}, "y": {"datum": 12.07, "type": "quantitative"}}},
            {"mark": {"type": "text", "style": "rho", "text": "ρ"}, "encoding": {"x": {"datum": 0.47, "type": "quantitative"}, "y": {"datum": -1.7, "type": "quantitative"}}},
            {"mark": {"type": "text", "style": "rhosub", "text": "N"}, "encoding": {"x": {"datum": 0.502, "type": "quantitative"}, "y": {"datum": -1.9, "type": "quantitative"}}}
          ]
        }
      ]
    },
    {
      "width": 568, "height": 420,
      "layer": [
        {
          "data": {"name": "e_ne"},
          "mark": {"type": "line", "strokeWidth": 4, "interpolate": "monotone"},
          "encoding": {
            "x": {"field": "x", "type": "quantitative", "scale": {"domain": [0, 1], "nice": false, "zero": false}, "axis": {"title": null, "values": [0, 0.2, 0.4, 0.6, 0.8, 1], "format": ".1f", "labelFontSize": 16}},
            "y": {"field": "y", "type": "quantitative", "scale": {"domain": [0, 14], "nice": false, "zero": false}, "axis": {"title": null, "values": [0, 2, 4, 6, 8, 10, 12, 14], "format": "d", "labelFontSize": 16}},
            "color": {"field": "c", "type": "nominal",
              "scale": {"domain": ["ASTRA v.6", "ASTRA v.7", "CRONOS", "ETS", "FASTRAN", "JINTRAC", "TASK/TR", "TRANSP", "TOPICS", "RAPTOR"], "range": ["#000000", "#808080", "#ff0000", "#0000ff", "#ff00ff", "#ff8000", "#008000", "#800000", "#8000ff", "#00ffff"]},
              "legend": {"title": null, "orient": "none", "legendX": 20, "legendY": 145, "labelFontSize": 20, "labelOffset": 9, "symbolType": "stroke", "symbolSize": 2704, "symbolStrokeWidth": 4, "clipHeight": 24.8, "rowPadding": 2}}
          }
        },
        {"data": {"name": "xticks"}, "mark": {"type": "tick", "orient": "vertical", "size": 8, "thickness": 2, "color": "black", "yOffset": 4}, "encoding": {"x": {"field": "v", "type": "quantitative"}, "y": {"datum": 14, "type": "quantitative"}}},
        {"data": {"name": "nticks"}, "mark": {"type": "tick", "orient": "horizontal", "size": 8, "thickness": 2, "color": "black", "xOffset": -4}, "encoding": {"y": {"field": "v", "type": "quantitative"}, "x": {"datum": 1, "type": "quantitative"}}},
        {
          "data": {"values": [{}]},
          "layer": [
            {"mark": {"type": "text", "style": "tag", "text": "(e)"}, "encoding": {"x": {"datum": 0.016, "type": "quantitative"}, "y": {"datum": 13.1, "type": "quantitative"}}},
            {"mark": {"type": "text", "style": "sym", "text": "n"}, "encoding": {"x": {"datum": 0.602, "type": "quantitative"}, "y": {"datum": 12.1, "type": "quantitative"}}},
            {"mark": {"type": "text", "style": "sub", "text": "e"}, "encoding": {"x": {"datum": 0.644, "type": "quantitative"}, "y": {"datum": 11.82, "type": "quantitative"}}},
            {"mark": {"type": "text", "style": "unit", "text": "[10¹⁹/m³]"}, "encoding": {"x": {"datum": 0.683, "type": "quantitative"}, "y": {"datum": 12.1, "type": "quantitative"}}},
            {"mark": {"type": "text", "style": "rho", "text": "ρ"}, "encoding": {"x": {"datum": 0.498, "type": "quantitative"}, "y": {"datum": -1.67, "type": "quantitative"}}},
            {"mark": {"type": "text", "style": "rhosub", "text": "N"}, "encoding": {"x": {"datum": 0.53, "type": "quantitative"}, "y": {"datum": -1.87, "type": "quantitative"}}}
          ]
        }
      ]
    },
    {
      "width": 572, "height": 419,
      "layer": [
        {
          "data": {"name": "c_dv"},
          "mark": {"type": "line", "strokeWidth": 3.5, "interpolate": "monotone"},
          "encoding": {
            "x": {"field": "x", "type": "quantitative", "scale": {"domain": [0, 1], "nice": false, "zero": false}, "axis": {"title": null, "values": [0, 0.2, 0.4, 0.6, 0.8, 1], "format": ".1f", "labelFontSize": 19}},
            "y": {"field": "y", "type": "quantitative", "scale": {"domain": [-0.5, 2], "nice": false, "zero": false}, "axis": {"title": null, "values": [-0.5, 0, 0.5, 1, 1.5, 2], "format": ".1f", "labelExpr": "replace(datum.label, '−', '-')", "labelFontSize": 18}},
            "color": {"field": "c", "type": "nominal",
              "scale": {"domain": ["ASTRA v.6", "ETS", "TASK/TR", "TOPICS", "JINTRAC"], "range": ["#000000", "#0000ff", "#008000", "#8000ff", "#ff8000"]},
              "legend": {"title": null, "orient": "none", "legendX": 17, "legendY": 56, "labelFontSize": 25, "labelOffset": 6, "symbolType": "stroke", "symbolSize": 2704, "symbolStrokeWidth": 4, "clipHeight": 29, "rowPadding": 2}},
            "strokeDash": {"field": "q", "type": "nominal",
              "scale": {"domain": ["D", "|v|"], "range": [[1, 0], [14, 9]]},
              "legend": {"title": null, "orient": "none", "legendX": 477, "legendY": 9, "labelFontSize": 21, "labelOffset": 8, "symbolType": "stroke", "symbolSize": 2500, "symbolStrokeWidth": 4, "symbolStrokeColor": "black", "clipHeight": 26, "rowPadding": 2}}
          }
        },
        {"data": {"name": "xticks"}, "mark": {"type": "tick", "orient": "vertical", "size": 8, "thickness": 2, "color": "black", "yOffset": 4}, "encoding": {"x": {"field": "v", "type": "quantitative"}, "y": {"datum": 2, "type": "quantitative"}}},
        {"data": {"name": "dticks"}, "mark": {"type": "tick", "orient": "horizontal", "size": 8, "thickness": 2, "color": "black", "xOffset": -4}, "encoding": {"y": {"field": "v", "type": "quantitative"}, "x": {"datum": 1, "type": "quantitative"}}},
        {
          "data": {"values": [{}]},
          "layer": [
            {"mark": {"type": "text", "style": "tag", "text": "(c)"}, "encoding": {"x": {"datum": 0.0157, "type": "quantitative"}, "y": {"datum": 1.82, "type": "quantitative"}}},
            {"mark": {"type": "text", "style": "unit2", "text": "[m²/s], [m/s]"}, "encoding": {"x": {"datum": 0.507, "type": "quantitative"}, "y": {"datum": 1.363, "type": "quantitative"}}},
            {"mark": {"type": "text", "style": "rho", "text": "ρ"}, "encoding": {"x": {"datum": 0.46, "type": "quantitative"}, "y": {"datum": -0.887, "type": "quantitative"}}},
            {"mark": {"type": "text", "style": "rhosub", "text": "N"}, "encoding": {"x": {"datum": 0.495, "type": "quantitative"}, "y": {"datum": -0.929, "type": "quantitative"}}}
          ]
        }
      ]
    },
    {
      "width": 568, "height": 419,
      "layer": [
        {
          "data": {"name": "f_dv"},
          "mark": {"type": "line", "strokeWidth": 3.5, "interpolate": "monotone"},
          "encoding": {
            "x": {"field": "x", "type": "quantitative", "scale": {"domain": [0, 1], "nice": false, "zero": false}, "axis": {"title": null, "values": [0, 0.2, 0.4, 0.6, 0.8, 1], "format": ".1f", "labelFontSize": 17}},
            "y": {"field": "y", "type": "quantitative", "scale": {"domain": [-0.5, 2], "nice": false, "zero": false}, "axis": {"title": null, "values": [-0.5, 0, 0.5, 1, 1.5, 2], "format": ".1f", "labelExpr": "replace(datum.label, '−', '-')", "labelFontSize": 16}},
            "color": {"field": "c", "type": "nominal",
              "scale": {"domain": ["ASTRA v.6", "ASTRA v.7", "CRONOS", "ETS", "FASTRAN", "JINTRAC modified pinch", "TASK/TR", "TOPICS modified pinch", "RAPTOR"], "range": ["#000000", "#808080", "#ff0000", "#0000ff", "#ff00ff", "#ff8000", "#008000", "#8000ff", "#00ffff"]},
              "legend": {"title": null, "orient": "none", "legendX": 34, "legendY": 13, "labelFontSize": 20, "labelOffset": 9, "labelLimit": 400, "symbolType": "stroke", "symbolSize": 2500, "symbolStrokeWidth": 3.5, "clipHeight": 23.3, "rowPadding": 2}},
            "strokeDash": {"field": "q", "type": "nominal",
              "scale": {"domain": ["D", "|v|"], "range": [[1, 0], [14, 9]]},
              "legend": {"title": null, "orient": "none", "legendX": 467, "legendY": 12, "labelFontSize": 19, "labelOffset": 3, "symbolType": "stroke", "symbolSize": 2500, "symbolStrokeWidth": 3.5, "symbolStrokeColor": "black", "clipHeight": 25, "rowPadding": 2}}
          }
        },
        {"data": {"name": "xticks"}, "mark": {"type": "tick", "orient": "vertical", "size": 8, "thickness": 2, "color": "black", "yOffset": 4}, "encoding": {"x": {"field": "v", "type": "quantitative"}, "y": {"datum": 2, "type": "quantitative"}}},
        {"data": {"name": "dticks"}, "mark": {"type": "tick", "orient": "horizontal", "size": 8, "thickness": 2, "color": "black", "xOffset": -4}, "encoding": {"y": {"field": "v", "type": "quantitative"}, "x": {"datum": 1, "type": "quantitative"}}},
        {
          "data": {"values": [{}]},
          "layer": [
            {"mark": {"type": "text", "style": "tag", "text": "(f)"}, "encoding": {"x": {"datum": 0.002, "type": "quantitative"}, "y": {"datum": 1.886, "type": "quantitative"}}},
            {"mark": {"type": "text", "style": "unit2", "text": "[m²/s], [m/s]"}, "encoding": {"x": {"datum": 0.585, "type": "quantitative"}, "y": {"datum": 1.418, "type": "quantitative"}}},
            {"mark": {"type": "text", "style": "rho", "text": "ρ"}, "encoding": {"x": {"datum": 0.479, "type": "quantitative"}, "y": {"datum": -0.877, "type": "quantitative"}}},
            {"mark": {"type": "text", "style": "rhosub", "text": "N"}, "encoding": {"x": {"datum": 0.512, "type": "quantitative"}, "y": {"datum": -0.92, "type": "quantitative"}}}
          ]
        }
      ]
    }
  ],
  "config": {
    "view": {"stroke": "black", "strokeWidth": 2},
    "axis": {"grid": false, "domain": false, "offset": -8, "tickColor": "black", "tickWidth": 2, "tickSize": 8, "labelFont": "Liberation Sans", "labelFontWeight": "bold", "labelColor": "black", "labelFlush": false, "labelOverlap": false},
    "axisBottom": {"labelPadding": 12},
    "axisLeft": {"labelPadding": 7},
    "legend": {"labelFont": "Liberation Sans", "labelColor": "black", "padding": 0, "labelLimit": 400},
    "style": {
      "tag": {"font": "Liberation Serif", "fontSize": 29, "align": "left", "baseline": "middle", "color": "black"},
      "sym": {"font": "Liberation Sans", "fontSize": 42, "align": "left", "baseline": "alphabetic", "color": "black"},
      "sub": {"font": "Liberation Sans", "fontSize": 24, "align": "left", "baseline": "alphabetic", "color": "black"},
      "unit": {"font": "DejaVu Serif", "fontSize": 35, "align": "left", "baseline": "alphabetic", "color": "black"},
      "unit2": {"font": "DejaVu Serif", "fontSize": 36, "align": "left", "baseline": "alphabetic", "color": "black"},
      "rho": {"font": "Liberation Serif", "fontStyle": "italic", "fontSize": 34, "align": "left", "baseline": "alphabetic", "color": "black"},
      "rhosub": {"font": "Liberation Serif", "fontStyle": "italic", "fontSize": 21, "align": "left", "baseline": "alphabetic", "color": "black"}
    }
  }
}
